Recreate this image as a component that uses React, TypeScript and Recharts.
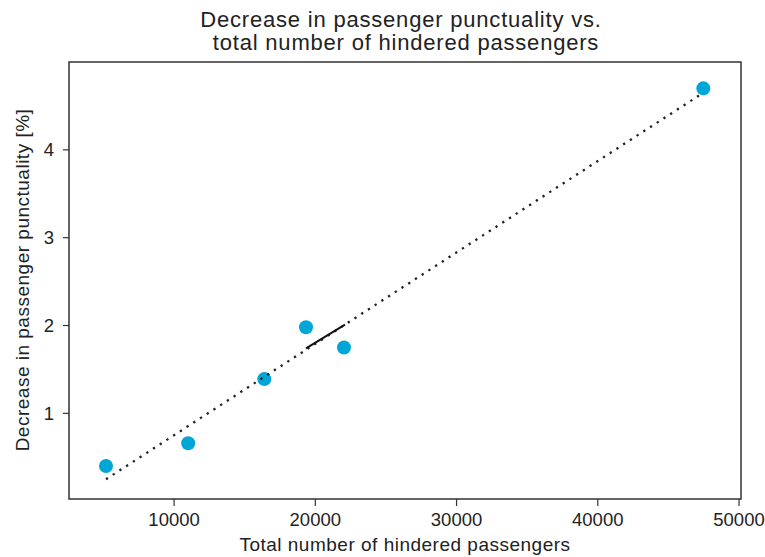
import React from 'react';
import { ScatterChart, Scatter, XAxis, YAxis, ReferenceArea } from 'recharts';

const passengers = [5180, 11000, 16390, 19340, 22030, 47470];
const punctualityDecrease = [0.40, 0.66, 1.39, 1.98, 1.75, 4.70];
const fitLineX = [5180, 47470];
const fitLineY = [0.25, 4.65];
const solidSegX = [19340, 22100];
const solidSegY = [1.74, 2.01];
const xTicks = [10000, 20000, 30000, 40000, 50000];
const yTicks = [1, 2, 3, 4];
const xDomain = [2560, 50140];
const yDomain = [0.025, 5.0];

const points = passengers.map((x, i) => ({ x, y: punctualityDecrease[i] }));
const fitLine = fitLineX.map((x, i) => ({ x, y: fitLineY[i] }));
const solidSeg = solidSegX.map((x, i) => ({ x, y: solidSegY[i] }));

const FONT = '"Liberation Sans", Arial, sans-serif';
const TXT = '#222';

const Dot = (props: any) => <circle cx={props.cx} cy={props.cy} r={7} fill="#00A6D6" />;
const NoShape = () => <g />;

export default function App() {
  return (
    <div style={{ position: 'absolute', left: 0, top: 0, width: 765, height: 557, background: '#fff' }}>
      <ScatterChart width={765} height={557} margin={{ top: 62, right: 24, bottom: 0, left: 0 }}>
        <XAxis
          type="number"
          dataKey="x"
          domain={xDomain}
          ticks={xTicks}
          allowDataOverflow
          height={58}
          axisLine={false}
          tickLine={{ stroke: '#333', strokeWidth: 1.2 }}
          tickSize={7}
          tickMargin={7}
          tick={{ fontSize: 18.5, fill: TXT, fontFamily: FONT }}
        />
        <YAxis
          type="number"
          dataKey="y"
          domain={yDomain}
          ticks={yTicks}
          allowDataOverflow
          width={69}
          axisLine={false}
          tickLine={{ stroke: '#333', strokeWidth: 1.2 }}
          tickSize={6}
          tickMargin={9}
          tick={{ fontSize: 18.5, fill: TXT, fontFamily: FONT }}
        />
        <ReferenceArea
          x1={xDomain[0]}
          x2={xDomain[1]}
          y1={yDomain[0]}
          y2={yDomain[1]}
          fill="none"
          fillOpacity={0}
          stroke="#333"
          strokeWidth={1.5}
        />
        <Scatter data={points} shape={Dot} isAnimationActive={false} />
        <Scatter
          data={fitLine}
          shape={NoShape}
          line={{ stroke: '#222', strokeWidth: 2.3, strokeDasharray: '2.3 5.7' }}
          isAnimationActive={false}
        />
        <Scatter
          data={solidSeg}
          shape={NoShape}
          line={{ stroke: '#111', strokeWidth: 2 }}
          isAnimationActive={false}
        />
      </ScatterChart>
      <svg width={765} height={557} style={{ position: 'absolute', left: 0, top: 0, pointerEvents: 'none' }}>
        <text x={401} y={27} textAnchor="middle" fontFamily={FONT} fontSize={22} letterSpacing={0.8} fill={TXT}>
          Decrease in passenger punctuality vs.
        </text>
        <text x={406} y={50} textAnchor="middle" fontFamily={FONT} fontSize={22} letterSpacing={0.8} fill={TXT}>
          total number of hindered passengers
        </text>
        <text x={405} y={551} textAnchor="middle" fontFamily={FONT} fontSize={19} letterSpacing={0.5} fill={TXT}>
          Total number of hindered passengers
        </text>
        <text
          x={29}
          y={280}
          textAnchor="middle"
          fontFamily={FONT}
          fontSize={19}
          letterSpacing={0.5}
          fill={TXT}
          transform="rotate(-90, 29, 280)"
        >
          Decrease in passenger punctuality [%]
        </text>
      </svg>
    </div>
  );
}
